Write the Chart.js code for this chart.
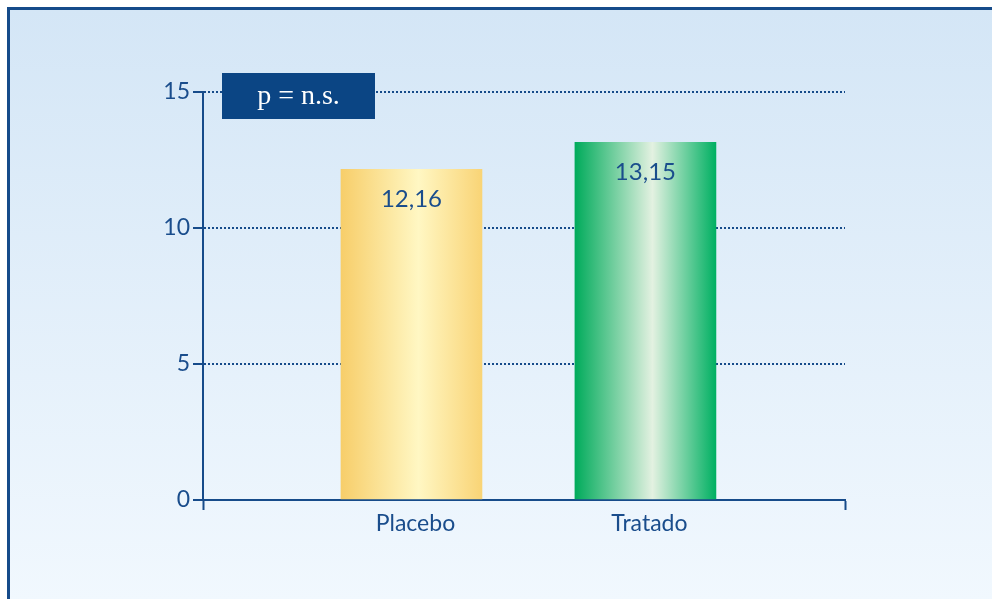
<!DOCTYPE html>
<html>
<head>
<meta charset="utf-8">
<script src="https://cdn.jsdelivr.net/npm/chart.js@4/dist/chart.umd.min.js"></script>
<style>
  html, body { margin: 0; padding: 0; background: #fff; width: 992px; height: 599px; overflow: hidden; }
  #frame { position: absolute; left: 7px; top: 7px; width: 1000px; height: 610px; box-sizing: border-box;
           border-style: solid; border-color: #164b8a; border-width: 3px 0 0 3px;
           background: linear-gradient(#d4e6f6, #f1f8fe 592px); }
  #myChart { position: absolute; left: 0; top: 0; }
</style>
</head>
<body>
<div id="frame"></div>
<canvas id="myChart" width="992" height="599"></canvas>
<script>
// data
const labels = ["Placebo", "Tratado"];
const positions = [1, 2];
const values = [12.16, 13.15];
const valueLabels = ["12,16", "13,15"];
const yTicks = [0, 5, 10, 15];
const note = "p = n.s.";

// styles
const axisColor = "#164b8a";
const textColor = "#1a4d8c";
const barWidth = 141;
const barColors = [
  ["#f7ce6a", "#fff7c3", "#f9d476"],
  ["#00ab5b", "#e3f1e1", "#00b062"]
];

//horizontal gradient for every bar
function barGradient(c) {
  const chart = c.chart;
  const cols = barColors[c.dataIndex] || barColors[0];
  const xs = chart.scales.x;
  if (!xs || !chart.chartArea || c.dataIndex === undefined) return cols[0];
  const cx = xs.getPixelForValue(positions[c.dataIndex]);
  const g = chart.ctx.createLinearGradient(cx - barWidth / 2, 0, cx + barWidth / 2, 0);
  g.addColorStop(0, cols[0]);
  g.addColorStop(0.55, cols[1]);
  g.addColorStop(1, cols[2]);
  return g;
}

// values written inside the bars
const valuePlugin = {
  id: "valuePlugin",
  afterDatasetsDraw(chart) {
    const ctx = chart.ctx;
    const meta = chart.getDatasetMeta(0);
    ctx.save();
    ctx.fillStyle = textColor;
    ctx.font = "24px Lato";
    ctx.textAlign = "center";
    ctx.textBaseline = "middle";
    meta.data.forEach((bar, i) => {
      ctx.fillText(valueLabels[i], bar.x, bar.y + 30);
    });
    ctx.restore();
  }
};

// the "p = n.s." box
const notePlugin = {
  id: "notePlugin",
  afterDraw(chart) {
    const ctx = chart.ctx;
    const area = chart.chartArea;
    const yTop = chart.scales.y.getPixelForValue(15);
    const x = area.left + 19, y = yTop - 19, w = 153, h = 46;
    ctx.save();
    ctx.fillStyle = "#0b4584";
    ctx.fillRect(x, y, w, h);
    ctx.fillStyle = "#ffffff";
    ctx.font = "28px 'Liberation Serif'";
    ctx.textAlign = "center";
    ctx.textBaseline = "middle";
    ctx.fillText(note, x + w / 2, y + h / 2 + 1);
    ctx.restore();
  }
};

const ctx = document.getElementById("myChart").getContext("2d");
const myChart = new Chart(ctx, {
  type: "bar",
  data: {
    datasets: [{
      data: positions.map((p, i) => ({ x: p, y: values[i] })),
      backgroundColor: barGradient,
      borderWidth: 0,
      barThickness: barWidth
    }]
  },
  plugins: [valuePlugin, notePlugin],
  options: {
    responsive: false,
    animation: false,
    layout: { padding: { left: 0, top: 92, right: 147, bottom: 59 } },
    plugins: { legend: { display: false }, tooltip: { enabled: false } },
    scales: {
      x: {
        type: "linear",
        min: 0.109,
        max: 2.853,
        offset: false,
        afterBuildTicks: s => { s.ticks = [s.min, ...positions, s.max].map(v => ({ value: v })); },
        afterFit: s => { s.height = 40; },
        grid: {
          offset: false,
          drawOnChartArea: false,
          tickLength: 10,
          tickWidth: 2,
          tickColor: c => (c.tick && positions.includes(c.tick.value)) ? "rgba(0,0,0,0)" : axisColor
        },
        border: { color: axisColor, width: 2 },
        ticks: {
          autoSkip: false,
          maxRotation: 0,
          padding: 0,
          labelOffset: 4,
          color: textColor,
          font: { family: "Lato", size: 23 },
          callback: v => { const i = positions.indexOf(v); return i < 0 ? "" : labels[i]; }
        }
      },
      y: {
        min: 0,
        max: 15,
        afterBuildTicks: s => { s.ticks = yTicks.map(v => ({ value: v })); },
        afterFit: s => { s.width = 203; },
        grid: { color: axisColor, lineWidth: 2, tickLength: 10, tickColor: axisColor, tickWidth: 2 },
        border: { color: axisColor, width: 2, dash: [2, 2] },
        ticks: { color: textColor, font: { family: "Lato", size: 23 }, padding: 3 }
      }
    }
  }
});
</script>
</body>
</html>
